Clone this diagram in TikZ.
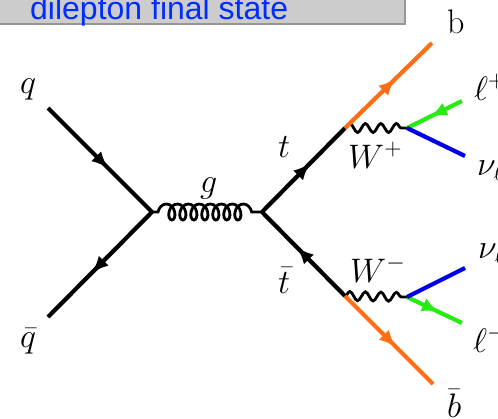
\RequirePackage{fix-cm}
\documentclass[tikz,border=0pt]{standalone}
\usepackage{fontspec}
\newfontfamily\bannerfont{Liberation Sans}
\usetikzlibrary{decorations.pathmorphing,decorations.markings,arrows.meta}
\definecolor{bannergray}{RGB}{204,204,204}
\definecolor{bannerline}{RGB}{150,150,150}
\definecolor{bannerblue}{RGB}{0,45,255}
\definecolor{quarkorange}{RGB}{255,110,20}
\definecolor{leptongreen}{RGB}{40,235,20}
\definecolor{nublue}{RGB}{0,0,230}
\begin{document}
\begin{tikzpicture}[x=1pt,y=-1pt,
  fermion/.style={line width=4.2pt, postaction={decorate},
    decoration={markings, mark=at position #1 with {\arrow{Latex[length=17pt,width=14pt]}}}},
  fermion/.default=0.58,
  plain/.style={line width=4.2pt},
  gluon/.style={line width=2.8pt, decorate,
    decoration={coil, amplitude=8pt, segment length=11pt, aspect=0.7, pre length=6pt, post length=6pt}},
  boson/.style={line width=2.8pt, decorate,
    decoration={snake, amplitude=4.5pt, segment length=15.5pt}},
  lbl/.style={anchor=base west, inner sep=0pt, font=\fontsize{34}{40}\selectfont}
]
\useasboundingbox (0,0) rectangle (498,418);
\clip (0,0) rectangle (498,418);
% banner
\filldraw[fill=bannergray, draw=bannerline, line width=2pt] (-10,-10) rectangle (405,24);
\node[anchor=base west, inner sep=0pt, text=bannerblue, font=\bannerfont\fontsize{32}{38}\selectfont] (banner) at (30,19) {dilepton final state};
% vertices
\coordinate (qin) at (48,108);
\coordinate (qout) at (48,317);
\coordinate (v1) at (152,212);
\coordinate (v2) at (262,212);
\coordinate (vt) at (345,128);
\coordinate (vtb) at (345,296);
\coordinate (wp) at (407,128);
\coordinate (wm) at (407,297);
\coordinate (bend) at (432,43);
\coordinate (bbend) at (433,384);
\coordinate (lp) at (462,101);
\coordinate (nup) at (465,156);
\coordinate (num) at (465,268);
\coordinate (lm) at (462,323);
% lines
\draw[fermion] (qin) -- (v1);
\draw[fermion] (v1) -- (qout);
\draw[gluon] (v1) -- (v2);
\draw[fermion] (v2) -- (vt);
\draw[fermion] (vtb) -- (v2);
\draw[boson] (vt) -- (wp);
\draw[boson] (vtb) -- (wm);
\draw[fermion, quarkorange] (vt) -- (bend);
\draw[fermion, quarkorange] (vtb) -- (bbend);
\draw[fermion, leptongreen] (lp) -- (wp);
\draw[fermion, leptongreen] (wm) -- (lm);
\draw[plain, nublue] (wp) -- (nup);
\draw[plain, nublue] (wm) -- (num);
% labels
\node[lbl] (lq) at (20,93) {$q$};
\node[lbl] (lqb) at (20,347) {$\bar q$};
\node[lbl] (lg) at (200,192) {$g$};
\node[lbl] (lt) at (278,157) {$t$};
\node[lbl] (ltb) at (278,293) {$\bar t$};
\node[lbl] (lwp) at (348,168) {$W^+$};
\node[lbl] (lwm) at (350,282) {$W^-$};
\node[lbl] (lb) at (447,33) {b};
\node[lbl] (lbb) at (447,417) {$\bar b$};
\node[lbl] (llp) at (474,100) {$\ell^+$};
\node[lbl] (lnup) at (477,175) {$\nu_\ell$};
\node[lbl] (lnum) at (478,258) {$\nu_\ell$};
\node[lbl] (llm) at (473,352) {$\ell^-$};
\end{tikzpicture}
\end{document}
